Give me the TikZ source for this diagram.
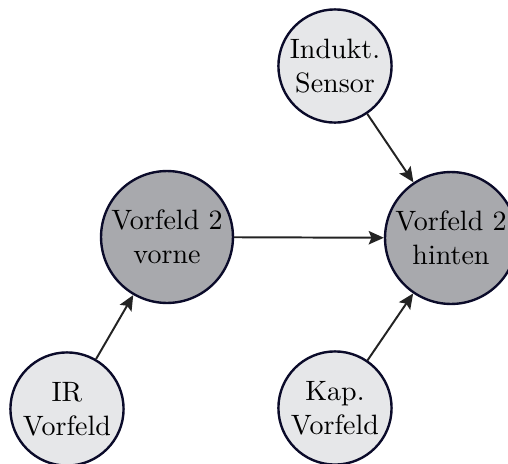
\documentclass[tikz,border=0pt]{standalone}
\usetikzlibrary{arrows.meta}
\definecolor{rimnavy}{HTML}{0B0B2A}
\definecolor{lightfill}{HTML}{E6E7E9}
\definecolor{darkfill}{HTML}{A8A9AD}
\definecolor{linkgray}{HTML}{232323}
\begin{document}
\begin{tikzpicture}[x=0.357pt, y=-0.357pt,
  sensor/.style={circle, draw=rimnavy, line width=0.85pt, fill=lightfill,
    minimum size=40.4pt, inner sep=0pt, align=center, font=\normalsize},
  field/.style={circle, draw=rimnavy, line width=0.85pt, fill=darkfill,
    minimum size=47.1pt, inner sep=0pt, align=center, font=\normalsize},
  link/.style={draw=linkgray, line width=0.7pt,
    -{Stealth[length=5.4pt, width=4.8pt, inset=1pt]}}]
  \useasboundingbox (0,0) rectangle (508,464);
  \clip (0,0) rectangle (508,464);

  % input sensors
  \node[sensor] (ind) at (335,66)  {Indukt.\\Sensor};
  \node[sensor] (ir)  at (67,409)  {IR\\Vorfeld};
  \node[sensor] (kap) at (335,408) {Kap.\\Vorfeld};

  % fused fields
  \node[field] (vv) at (167,237) {Vorfeld 2\\vorne};
  \node[field] (vh) at (451,238) {Vorfeld 2\\hinten};

  % data flow
  \draw[link] (ir)  -- (vv);
  \draw[link] (vv)  -- (vh);
  \draw[link] (ind) -- (vh);
  \draw[link] (kap) -- (vh);
\end{tikzpicture}
\end{document}
